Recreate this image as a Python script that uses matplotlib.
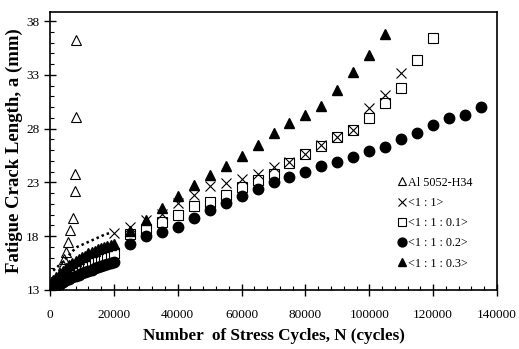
import numpy as np
import matplotlib
matplotlib.use("Agg")
import matplotlib.pyplot as plt
from matplotlib.ticker import MultipleLocator, FixedLocator

plt.rcParams['font.family'] = ['Liberation Serif', 'DejaVu Serif']

# cycles used for the densely sampled early part of each test
early_n = [0, 1000, 2000, 3000, 4000, 5000, 6000, 7000, 8000, 9000, 10000,
           11000, 12000, 13000, 14000, 15000, 16000, 17000, 18000, 19000, 20000]

# Al 5052-H34 (open triangles)
al_n = [1000, 2000, 3000, 4000, 4500, 5000, 5500, 6400, 7300, 7700, 7900, 8100, 8150]
al_a = [13.5, 14.0, 14.6, 15.3, 15.9, 16.5, 17.5, 18.6, 19.7, 22.2, 23.8, 29.1, 36.2]

# <1:1> (crosses), early part appears as a dotted trace
r1_dense_n = [1000, 2500, 4000, 5500, 7000, 8500, 10000, 11500, 13000, 14500, 16000, 17500, 19000]
r1_dense_a = [14.8, 15.2, 15.6, 16.1, 16.6, 17.0, 17.2, 17.4, 17.6, 17.8, 18.0, 18.2, 18.3]
r1_n = [20000, 25000, 30000, 35000, 40000, 45000, 50000, 55000, 60000, 65000,
        70000, 75000, 80000, 85000, 90000, 95000, 100000, 105000, 110000]
r1_a = [18.3, 18.9, 19.5, 20.1, 21.1, 21.8, 22.7, 22.9, 23.3, 23.8,
        24.4, 24.9, 25.6, 26.5, 27.2, 27.9, 29.9, 31.1, 33.2]

# <1:1:0.1> (open squares)
r01_early = [13.2, 13.5, 13.7, 14.0, 14.2, 14.4, 14.6, 14.8, 15.0, 15.2, 15.3,
             15.5, 15.6, 15.7, 15.8, 15.9, 16.0, 16.1, 16.2, 16.3, 16.4]
r01_n = [25000, 30000, 35000, 40000, 45000, 50000, 55000, 60000, 65000, 70000,
         75000, 80000, 85000, 90000, 95000, 100000, 105000, 110000, 115000, 120000]
r01_a = [18.2, 18.7, 19.3, 20.0, 20.8, 21.2, 21.8, 22.6, 23.2, 23.8,
         24.8, 25.6, 26.4, 27.2, 27.9, 29.0, 30.4, 31.8, 34.4, 36.4]

# <1:1:0.2> (filled circles)
r02_early = [13.0, 13.2, 13.4, 13.6, 13.7, 13.9, 14.0, 14.2, 14.3, 14.4, 14.6,
             14.7, 14.8, 14.9, 15.0, 15.1, 15.2, 15.3, 15.4, 15.5, 15.6]
r02_n = [25000, 30000, 35000, 40000, 45000, 50000, 55000, 60000, 65000, 70000,
         75000, 80000, 85000, 90000, 95000, 100000, 105000, 110000, 115000, 120000,
         125000, 130000, 135000]
r02_a = [17.3, 18.0, 18.4, 18.9, 19.7, 20.4, 21.1, 21.7, 22.4, 23.0,
         23.5, 24.0, 24.5, 24.9, 25.4, 25.9, 26.3, 27.0, 27.6, 28.3,
         29.0, 29.3, 30.0]

# <1:1:0.3> (filled triangles)
r03_early = [13.5, 13.9, 14.2, 14.5, 14.8, 15.0, 15.3, 15.5, 15.7, 15.9, 16.1,
             16.2, 16.4, 16.5, 16.6, 16.8, 16.9, 17.0, 17.1, 17.2, 17.3]
r03_n = [25000, 30000, 35000, 40000, 45000, 50000, 55000, 60000, 65000, 70000,
         75000, 80000, 85000, 90000, 95000, 100000, 105000]
r03_a = [18.5, 19.5, 20.6, 21.7, 22.8, 23.7, 24.5, 25.5, 26.5, 27.6,
         28.5, 29.3, 30.1, 31.6, 33.3, 34.8, 36.8]

labels = ["Al 5052-H34", "<1 : 1>", "<1 : 1 : 0.1>", "<1 : 1 : 0.2>", "<1 : 1 : 0.3>"]

fig = plt.figure(figsize=(5.19, 3.49), dpi=100)
ax = fig.add_axes([50/519, 1-290/349, 447/519, 278/349])

h_al, = ax.plot(al_n, al_a, '^', ms=7, mfc='none', mec='black', mew=0.8, ls='none', zorder=2)
ax.plot(early_n, r01_early, 's', ms=6.5, mfc='white', mec='black', mew=0.8, ls='none', zorder=2.5)
h01, = ax.plot(r01_n, r01_a, 's', ms=6.5, mfc='white', mec='black', mew=0.8, ls='none', zorder=2.5)
ax.plot(early_n, r02_early, 'o', ms=7.5, color='black', ls='none', zorder=3)
h02, = ax.plot(r02_n, r02_a, 'o', ms=7.5, color='black', ls='none', zorder=3)
ax.plot(early_n, r03_early, '^', ms=7.5, color='black', ls='none', zorder=3)
h03, = ax.plot(r03_n, r03_a, '^', ms=7.5, color='black', ls='none', zorder=3)
ax.plot(r1_dense_n, r1_dense_a, ls=(0, (1, 1.2)), color='black', lw=1.8, zorder=4)
h1, = ax.plot(r1_n, r1_a, 'x', ms=7.5, color='black', mew=0.8, ls='none', zorder=4)

ax.set_xlim(0, 140000)
ax.set_ylim(13, 38.84)
ax.xaxis.set_major_locator(MultipleLocator(20000))
ax.xaxis.set_minor_locator(MultipleLocator(4000))
ax.yaxis.set_major_locator(FixedLocator([13, 18, 23, 28, 33, 38]))
ax.yaxis.set_minor_locator(MultipleLocator(1))
ax.tick_params(which='major', direction='inout', length=8, width=1.0, labelsize=9.5)
ax.tick_params(which='minor', direction='in', length=3, width=0.8)
ax.tick_params(axis='x', pad=10)
for s in ax.spines.values():
    s.set_linewidth(1.2)

ax.set_xlabel("Number  of Stress Cycles, N (cycles)", fontsize=12.3, fontweight='bold', labelpad=5)
ax.set_ylabel("Fatigue Crack Length, a (mm)", fontsize=13.5, fontweight='bold', labelpad=2)

ax.legend([h_al, h1, h01, h02, h03], labels, loc='lower right', bbox_to_anchor=(0.972, 0.03),
          frameon=False, fontsize=8.7, handlelength=0.6, handletextpad=0.2,
          labelspacing=0.68, markerscale=0.85, borderaxespad=0.6)

fig.savefig("out.png", dpi=100)
